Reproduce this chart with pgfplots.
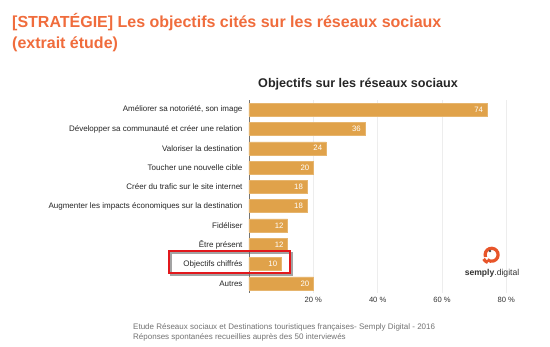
\documentclass[border=0pt]{standalone}
\usepackage{pgfplots}
\pgfplotsset{compat=1.18}
\usepackage{fontspec}
\setmainfont{Liberation Sans}
\definecolor{barc}{RGB}{224,162,74}
\definecolor{titleor}{RGB}{240,108,60}
\definecolor{logor}{RGB}{232,85,42}
\definecolor{boxred}{RGB}{226,24,28}
\begin{document}
\begin{tikzpicture}
\path[use as bounding box, fill=white] (0,0) rectangle (550pt,-347pt);
% main title
\node[anchor=west, text=titleor, font=\fontsize{16}{18}\selectfont\bfseries, inner sep=0] at (12pt,-22pt) {[STRATÉGIE] Les objectifs cités sur les réseaux sociaux};
\node[anchor=west, text=titleor, font=\fontsize{16}{18}\selectfont\bfseries, inner sep=0] at (12pt,-44pt) {(extrait étude)};
% chart title
\node[text=black!85, font=\fontsize{12.6}{14}\selectfont\bfseries, inner sep=0] at (358pt,-84pt) {Objectifs sur les réseaux sociaux};
\begin{axis}[
  at={(249pt,-293pt)}, anchor=south west,
  scale only axis, width=267pt, height=193pt,
  xmin=0, xmax=83, ymin=-0.5, ymax=9.5,
  y dir=reverse,
  xbar, bar width=13pt,
  axis lines*=left,
  x axis line style={draw=none},
  y axis line style={black!55, line width=0.6pt},
  major tick length=0pt,
  ytick={0,...,9},
  yticklabels={{Améliorer sa notoriété, son image},Développer sa communauté et créer une relation,Valoriser la destination,Toucher une nouvelle cible,Créer du trafic sur le site internet,Augmenter les impacts économiques sur la destination,Fidéliser,Être présent,Objectifs chiffrés,Autres},
  yticklabel style={font=\fontsize{8}{9}\selectfont, text=black!85, xshift=-3pt},
  xtick={20,40,60,80},
  xticklabels={20 \%,40 \%,60 \%,80 \%},
  xticklabel style={font=\fontsize{7.6}{9}\selectfont, text=black!80, yshift=-1pt},
  /pgf/number format/assume math mode=true,
  xmajorgrids, grid style={black!7, line width=0.5pt},
  nodes near coords,
  every node near coord/.append style={anchor=east, xshift=-0.5pt, font=\fontsize{7.8}{9}\selectfont, text=white},
  clip=false,
]
\addplot[fill=barc, draw=barc!80!white] coordinates {
(74,0) (36,1) (24,2) (20,3) (18,4) (18,5) (12,6) (12,7) (10,8) (20,9)};
\end{axis}
% highlight box
\draw[black!60, line width=2.5pt, opacity=0.6] (171pt,-253pt) rectangle (292pt,-275pt);
\draw[boxred, line width=2.6pt] (169pt,-251pt) rectangle (290pt,-273pt);
% logo
\draw[logor, line width=3.2pt] (485.5pt,-257pt) arc[start angle=200, end angle=-130, radius=6.5pt];
\draw[logor, line width=3.2pt] (487.8pt,-262.5pt) arc[start angle=-110, end angle=-150, radius=8pt];
\fill[black!70] (490pt,-251pt) circle (1.3pt);
\node[anchor=center, inner sep=0, text=black!80, font=\fontsize{8.6}{10}\selectfont] at (492pt,-273pt) {\textbf{semply}.digital};
% footer
\node[anchor=west, inner sep=0, text=black!55, font=\fontsize{8}{9}\selectfont] at (133pt,-327pt) {Etude Réseaux sociaux et Destinations touristiques françaises- Semply Digital - 2016};
\node[anchor=west, inner sep=0, text=black!55, font=\fontsize{8}{9}\selectfont] at (133pt,-337pt) {Réponses spontanées recueillies auprès des 50 interviewés};
\end{tikzpicture}
\end{document}
